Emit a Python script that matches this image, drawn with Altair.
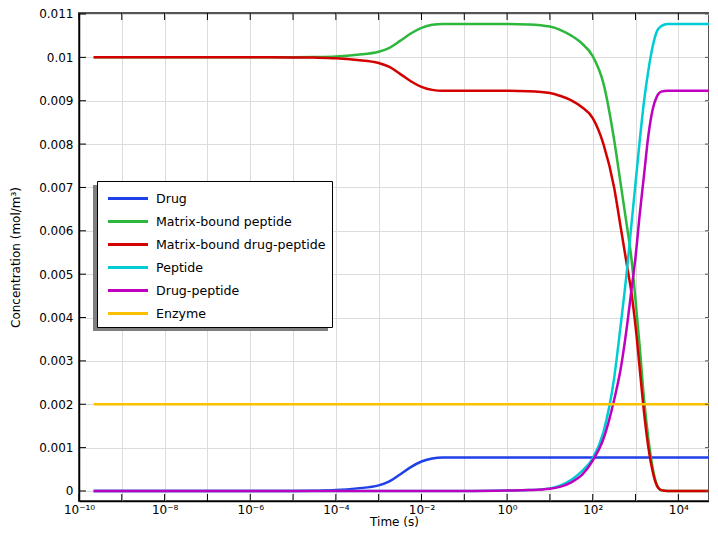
import altair as alt
import pandas as pd

series = ["Drug", "Matrix-bound peptide", "Matrix-bound drug-peptide",
          "Peptide", "Drug-peptide", "Enzyme"]
colors = ["#1f40e8", "#2db83d", "#d40000", "#00ccd4", "#c000c0", "#ffc000"]

time_s = [2.2e-10, 1e-9, 1e-8, 1e-7, 1e-6, 1e-5, 3.16e-5, 1e-4, 3.16e-4, 1e-3,
          1.78e-3, 3.16e-3, 5.62e-3, 1e-2, 1.78e-2, 3.16e-2, 0.1, 1, 3.16, 10,
          17.8, 31.6, 56.2, 100, 178, 316, 447, 631, 794, 1000,
          1259, 1585, 1995, 2512, 3162, 3981, 5623, 1e4, 5.5e4]

drug = [0, 0, 0, 0, 0, 0.000001, 0.000006, 0.00002, 0.00006, 0.00013,
        0.00022, 0.00038, 0.00055, 0.00068, 0.00075, 0.00077, 0.00077, 0.00077, 0.00077, 0.00077,
        0.00077, 0.00077, 0.00077, 0.00077, 0.00077, 0.00077, 0.00077, 0.00077, 0.00077, 0.00077,
        0.00077, 0.00077, 0.00077, 0.00077, 0.00077, 0.00077, 0.00077, 0.00077, 0.00077]

mb_peptide = [0.01, 0.01, 0.01, 0.01, 0.01, 0.010001, 0.010006, 0.01002, 0.01006, 0.01013,
              0.01022, 0.01038, 0.01055, 0.01068, 0.01075, 0.01077, 0.01077, 0.01077, 0.01076, 0.01071,
              0.01063, 0.0105, 0.01032, 0.01003, 0.0094, 0.0081, 0.0071, 0.0061, 0.0054, 0.0044,
              0.0033, 0.0021, 0.0012, 0.00053, 0.00014, 0.00002, 0, 0, 0]

mb_drug_peptide = [0.01, 0.01, 0.01, 0.01, 0.01, 0.009999, 0.009994, 0.00998, 0.00994, 0.00987,
                   0.00978, 0.00962, 0.00945, 0.00932, 0.00925, 0.00923, 0.00923, 0.00923, 0.00922, 0.00918,
                   0.00911, 0.00901, 0.00885, 0.0086, 0.0080, 0.0070, 0.0061, 0.0052, 0.0046, 0.0038,
                   0.0028, 0.0018, 0.0010, 0.00045, 0.00012, 0.00002, 0, 0, 0]

peptide = [0, 0, 0, 0, 0, 0, 0, 0, 0, 0,
           0, 0, 0, 0, 0, 0, 0, 0.00001, 0.00002, 0.00006,
           0.00013, 0.00026, 0.00046, 0.00075, 0.00136, 0.0026, 0.0038, 0.0051, 0.0061, 0.0071,
           0.0081, 0.0090, 0.0097, 0.01025, 0.0106, 0.01072, 0.01077, 0.01077, 0.01077]

drug_peptide = [0, 0, 0, 0, 0, 0, 0, 0, 0, 0,
                0, 0, 0, 0, 0, 0, 0, 0.00001, 0.00002, 0.00005,
                0.0001, 0.0002, 0.00037, 0.0007, 0.0012, 0.0021, 0.0028, 0.0038, 0.0046, 0.0054,
                0.0064, 0.0073, 0.0082, 0.0088, 0.0091, 0.00921, 0.00923, 0.00923, 0.00923]

enzyme = [0.002, 0.002, 0.002, 0.002, 0.002, 0.002, 0.002, 0.002, 0.002, 0.002,
          0.002, 0.002, 0.002, 0.002, 0.002, 0.002, 0.002, 0.002, 0.002, 0.002,
          0.002, 0.002, 0.002, 0.002, 0.002, 0.002, 0.002, 0.002, 0.002, 0.002,
          0.002, 0.002, 0.002, 0.002, 0.002, 0.002, 0.002, 0.002, 0.002]

x_ticks = [1e-10, 1e-9, 1e-8, 1e-7, 1e-6, 1e-5, 1e-4, 1e-3, 1e-2, 1e-1, 1, 10, 100, 1e3, 1e4]
x_tick_labels = ["10⁻¹⁰", "", "10⁻⁸", "", "10⁻⁶", "", "10⁻⁴", "", "10⁻²", "",
                 "10⁰", "", "10²", "", "10⁴"]
y_ticks = [0, 0.001, 0.002, 0.003, 0.004, 0.005, 0.006, 0.007, 0.008, 0.009, 0.01, 0.011]

rows = []
for name, vals in zip(series, [drug, mb_peptide, mb_drug_peptide, peptide, drug_peptide, enzyme]):
    for t, v in zip(time_s, vals):
        rows.append({"t": t, "c": v, "s": name})
df = pd.DataFrame(rows)

W, H = 630, 488
xscale = alt.Scale(type="log", domain=[1e-10, 5.2e4], nice=False)
yscale = alt.Scale(domain=[-0.000231, 0.011023], nice=False, zero=False)

label_arr = "[" + ",".join("'" + s + "'" for s in x_tick_labels) + "]"
x_label_expr = label_arr + "[round(log(datum.value)/LN10)+10]"

lines = alt.Chart(df).mark_line(strokeWidth=2.5, interpolate="monotone", clip=True).encode(
    x=alt.X("t:Q", scale=xscale,
            axis=alt.Axis(values=x_ticks, labelExpr=x_label_expr, title="Time (s)",
                          labelPadding=3, titlePadding=1, labelOverlap=False,
                          labelFlush=False)),
    y=alt.Y("c:Q", scale=yscale,
            axis=alt.Axis(values=y_ticks, format="~g", title="Concentration (mol/m³)",
                          labelPadding=6, titlePadding=16)),
    color=alt.Color("s:N", sort=series, scale=alt.Scale(domain=series, range=colors),
                    legend=alt.Legend(title=None, orient="none", legendX=18, legendY=168,
                                      fillColor="white", strokeColor="black", padding=6,
                                      symbolType="M-2,0H2", symbolSize=400,
                                      symbolStrokeWidth=3, symbolOffset=13.5,
                                      labelOffset=16.5, rowPadding=4, labelLimit=400,
                                      labelFont="DejaVu Sans", labelFontSize=12.6,
                                      labelColor="black")),
)

shadow = alt.Chart(pd.DataFrame({"k": [0]})).mark_rect(color="#7f7f7f").encode(
    x=alt.value(14), x2=alt.value(249), y=alt.value(172), y2=alt.value(318))

xt = pd.DataFrame({"t": x_ticks})
yt = pd.DataFrame({"c": y_ticks})
bottom_ticks = alt.Chart(xt).mark_rule(color="black", strokeWidth=1).encode(
    x=alt.X("t:Q", scale=xscale), y=alt.value(H), y2=alt.value(H - 7))
top_ticks = alt.Chart(xt).mark_rule(color="black", strokeWidth=1).encode(
    x=alt.X("t:Q", scale=xscale), y=alt.value(0), y2=alt.value(7))
left_ticks = alt.Chart(yt).mark_rule(color="black", strokeWidth=1).encode(
    y=alt.Y("c:Q", scale=yscale), x=alt.value(0), x2=alt.value(7))
right_ticks = alt.Chart(yt).mark_rule(color="#555555", strokeWidth=1).encode(
    y=alt.Y("c:Q", scale=yscale), x=alt.value(W), x2=alt.value(W - 4))

chart = alt.layer(lines, shadow, bottom_ticks, top_ticks, left_ticks, right_ticks).properties(
    width=W, height=H,
    padding={"left": 71, "top": 5, "right": 0, "bottom": 31},
    autosize=alt.AutoSizeParams(type="none"),
).configure_view(stroke="#555555", strokeWidth=2).configure_axis(
    labelFont="DejaVu Sans", labelFontSize=12, labelColor="black",
    titleFont="DejaVu Sans", titleFontSize=12, titleFontWeight="normal", titleColor="black",
    gridColor="#dcdcdc", gridWidth=1, domainColor="black", domainWidth=1.5,
    ticks=False, tickSize=0,
)

chart.save("out.html", embed_options={"renderer": "svg", "actions": False})
